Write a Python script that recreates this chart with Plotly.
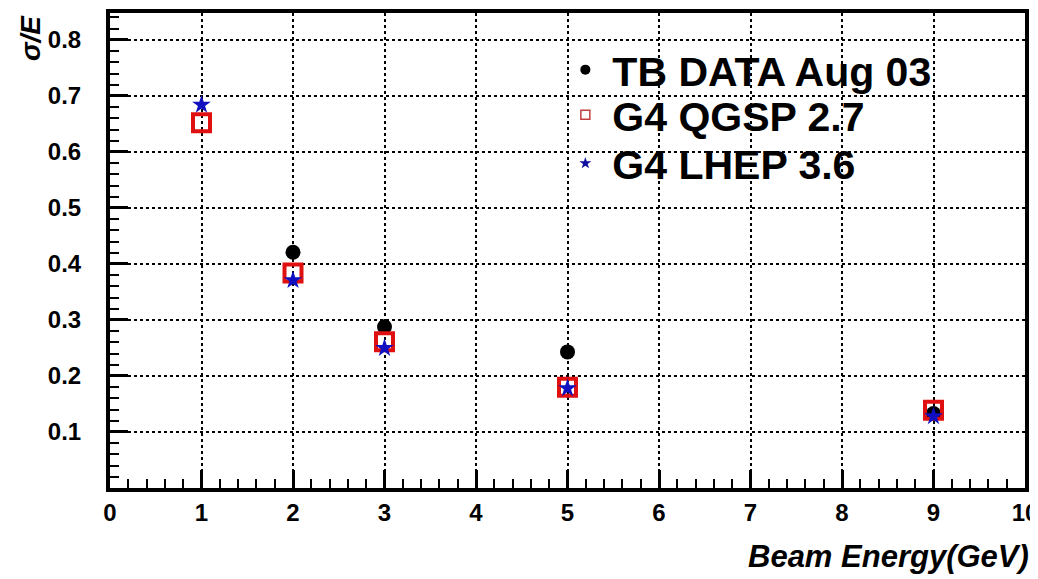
import plotly.graph_objects as go

# Data
tb_x = [2, 3, 5, 9]
tb_y = [0.421, 0.288, 0.243, 0.133]
qgsp_x = [1, 2, 3, 5, 9]
qgsp_y = [0.652, 0.384, 0.261, 0.180, 0.139]
lhep_x = [1, 2, 3, 5, 9]
lhep_y = [0.684, 0.371, 0.250, 0.178, 0.128]

names = ["TB DATA Aug 03", "G4 QGSP 2.7", "G4 LHEP 3.6"]
x_ticks = list(range(0, 11))
y_ticks = [0.1, 0.2, 0.3, 0.4, 0.5, 0.6, 0.7, 0.8]

FONT = "Liberation Sans, Arial, Helvetica, sans-serif"

fig = go.Figure()
fig.add_trace(go.Scatter(x=tb_x, y=tb_y, mode="markers", showlegend=False,
                         marker=dict(symbol="circle", size=15, color="black")))
fig.add_trace(go.Scatter(x=qgsp_x, y=qgsp_y, mode="markers", showlegend=False,
                         marker=dict(symbol="square-open", size=17, color="#e01010",
                                     line=dict(width=4, color="#e01010"))))
fig.add_trace(go.Scatter(x=lhep_x, y=lhep_y, mode="markers", showlegend=False,
                         marker=dict(symbol="star", size=14, color="#1010c0",
                                     line=dict(width=0))))

# legend proxies (no data points), one legend box each
fig.add_trace(go.Scatter(x=[None], y=[None], mode="markers", name=names[0], legend="legend",
                         marker=dict(symbol="circle", size=10, color="black")))
fig.add_trace(go.Scatter(x=[None], y=[None], mode="markers", name=names[1], legend="legend2",
                         marker=dict(symbol="square-open", size=9, color="#c04040",
                                     line=dict(width=1.5, color="#c04040"))))
fig.add_trace(go.Scatter(x=[None], y=[None], mode="markers", name=names[2], legend="legend3",
                         marker=dict(symbol="star", size=9, color="#1010a0")))

axis_common = dict(
    showline=True, linecolor="black", linewidth=4, mirror=True,
    ticks="inside", tickcolor="black", tickwidth=3, ticklen=18,
    showgrid=True, gridcolor="black", gridwidth=2, griddash="dot",
    zeroline=False, automargin=False,
    tickfont=dict(family=FONT, size=24, color="black", weight="bold"),
)

fig.update_xaxes(range=[0, 10], tickvals=x_ticks, ticktext=[str(v) for v in x_ticks],
                 minor=dict(ticks="inside", ticklen=9, tickwidth=2, tickcolor="black",
                            dtick=0.2, showgrid=False),
                 ticklabelstandoff=0, ticklabeloverflow="allow",
                 **axis_common)
fig.update_yaxes(range=[0, 0.848], tickvals=y_ticks, ticktext=[f"{v:.1f}" for v in y_ticks],
                 minor=dict(ticks="inside", ticklen=9, tickwidth=2, tickcolor="black",
                            dtick=0.02, tick0=0, showgrid=False),
                 ticklabelstandoff=20,
                 **axis_common)

leg_font = dict(family=FONT, size=41, color="black", weight="bold")
leg_common = dict(x=0.49, xanchor="left", yanchor="middle", bgcolor="rgba(0,0,0,0)",
                  borderwidth=0, font=leg_font, itemwidth=44)

# page body has an 8px margin, so the figure is sized to fit the window
fig.update_layout(
    width=1030, height=571,
    margin=dict(l=102, r=13, t=5, b=91, autoexpand=False),
    paper_bgcolor="white", plot_bgcolor="white",
    showlegend=True,
    legend=dict(y=0.88, **leg_common),
    legend2=dict(y=0.785, **leg_common),
    legend3=dict(y=0.683, **leg_common),
    annotations=[
        dict(text="<b><i>Beam Energy(GeV)</i></b>", xref="paper", yref="paper",
             x=1.0, y=0, xanchor="right", yanchor="top", yshift=-49, xshift=6,
             showarrow=False,
             font=dict(family=FONT, size=31, color="black")),
        dict(text="<b><i>σ/E</i></b>", xref="paper", yref="paper",
             x=0, y=1, xanchor="center", yanchor="middle", xshift=-80, yshift=-25,
             textangle=-90, showarrow=False,
             font=dict(family=FONT, size=28, color="black")),
    ],
)

fig.write_html("out.html")
